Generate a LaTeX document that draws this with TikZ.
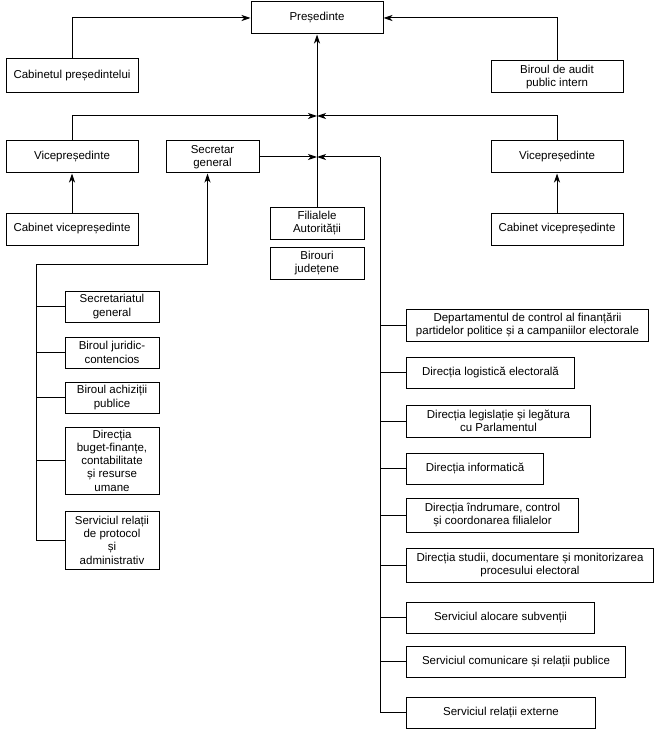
\documentclass[tikz,border=0pt]{standalone}
\usepackage{fontspec}
\setmainfont{Liberation Sans}
\usetikzlibrary{arrows.meta,calc}
\begin{document}
\begin{tikzpicture}[x=1pt,y=-1pt,
  box/.style={draw,line width=1pt,align=center,inner sep=1pt,
    font=\fontsize{11.5}{13.3}\selectfont},
  ln/.style={line width=1pt},
  arr/.style={ln,-{Stealth[length=9pt,width=6pt,inset=2.5pt]}}]
\useasboundingbox (0,0) rectangle (658,738);
% top
\node[box,minimum width=132pt,minimum height=32pt] (pres) at (317,18) {Președinte};
\node[box,minimum width=132pt,minimum height=34pt] (cab) at (72,76) {Cabinetul președintelui};
\node[box,minimum width=132pt,minimum height=32pt] (audit) at (557,77) {Biroul de audit\\public intern};
\node[box,minimum width=132pt,minimum height=32pt] (vl) at (72,157) {Vicepreședinte};
\node[box,minimum width=132pt,minimum height=32pt] (vr) at (557,157) {Vicepreședinte};
\node[box,minimum width=132pt,minimum height=32pt] (cvl) at (72,229) {Cabinet vicepreședinte};
\node[box,minimum width=132pt,minimum height=32pt] (cvr) at (557,229) {Cabinet vicepreședinte};
\node[box,minimum width=93pt,minimum height=32pt] (sg) at (212.5,157) {Secretar\\general};
\node[box,minimum width=94pt,minimum height=32pt] (fil) at (317,223) {Filialele\\Autorității};
\node[box,minimum width=94pt,minimum height=32pt] (bir) at (317,263) {Birouri\\județene};
% left list
\node[box,minimum width=94pt,minimum height=31pt] (s1) at (112,306.5) {Secretariatul\\general};
\node[box,minimum width=94pt,minimum height=31pt] (s2) at (112,352.5) {Biroul juridic-\\contencios};
\node[box,minimum width=94pt,minimum height=31pt] (s3) at (112,397.5) {Biroul achiziții\\publice};
\node[box,minimum width=94pt,minimum height=67pt] (s4) at (112,460.5) {Direcția\\buget-finanțe,\\contabilitate\\și resurse\\umane};
\node[box,minimum width=94pt,minimum height=58pt] (s5) at (112,540) {Serviciul relații\\de protocol\\și\\administrativ};
% right list
\node[box,anchor=west,minimum width=242pt,minimum height=32pt] (r1) at (406,325) {Departamentul de control al finanțării\\partidelor politice și a campaniilor electorale};
\node[box,anchor=west,minimum width=168pt,minimum height=31pt] (r2) at (406,372.5) {Direcția logistică electorală};
\node[box,anchor=west,minimum width=184pt,minimum height=32pt] (r3) at (406,421) {Direcția legislație și legătura\\cu Parlamentul};
\node[box,anchor=west,minimum width=137pt,minimum height=31pt] (r4) at (406,468.5) {Direcția informatică};
\node[box,anchor=west,minimum width=172pt,minimum height=34pt] (r5) at (406,515) {Direcția îndrumare, control\\și coordonarea filialelor};
\node[box,anchor=west,minimum width=247pt,minimum height=34pt] (r6) at (406,565) {Direcția studii, documentare și monitorizarea\\procesului electoral};
\node[box,anchor=west,minimum width=188pt,minimum height=31pt] (r7) at (406,617.5) {Serviciul alocare subvenții};
\node[box,anchor=west,minimum width=219pt,minimum height=31pt] (r8) at (406,661.5) {Serviciul comunicare și relații publice};
\node[box,anchor=west,minimum width=189pt,minimum height=31pt] (r9) at (406,712.5) {Serviciul relații externe};
% junctions
\coordinate (j1) at (317,116);
\coordinate (j2) at (317,157);
\coordinate (rc) at (380,157);
\coordinate (lc) at (36,264);
% connectors
\draw[arr] (fil.north) -- (pres.south);
\draw[arr] (cab.north) |- (pres.west);
\draw[arr] (audit.north) |- (pres.east);
\draw[arr] (vl.north) |- (j1);
\draw[arr] (vr.north) |- (j1);
\draw[arr] (sg.east) -- (j2);
\draw[arr] (rc) -- (j2);
\draw[arr] (cvl.north) -- (vl.south);
\draw[arr] (cvr.north) -- (vr.south);
\draw[ln] (r9.west) -| (rc);
\foreach \n in {r1,r2,r3,r4,r5,r6,r7,r8}
  \draw[ln] (\n.west) -- (\n.west -| rc);
\draw[arr] (lc) -| ([xshift=-5pt]sg.south);
\draw[ln] (s5.west) -| (lc);
\foreach \n in {s1,s2,s3,s4}
  \draw[ln] (\n.west) -- (\n.west -| lc);
\end{tikzpicture}
\end{document}
